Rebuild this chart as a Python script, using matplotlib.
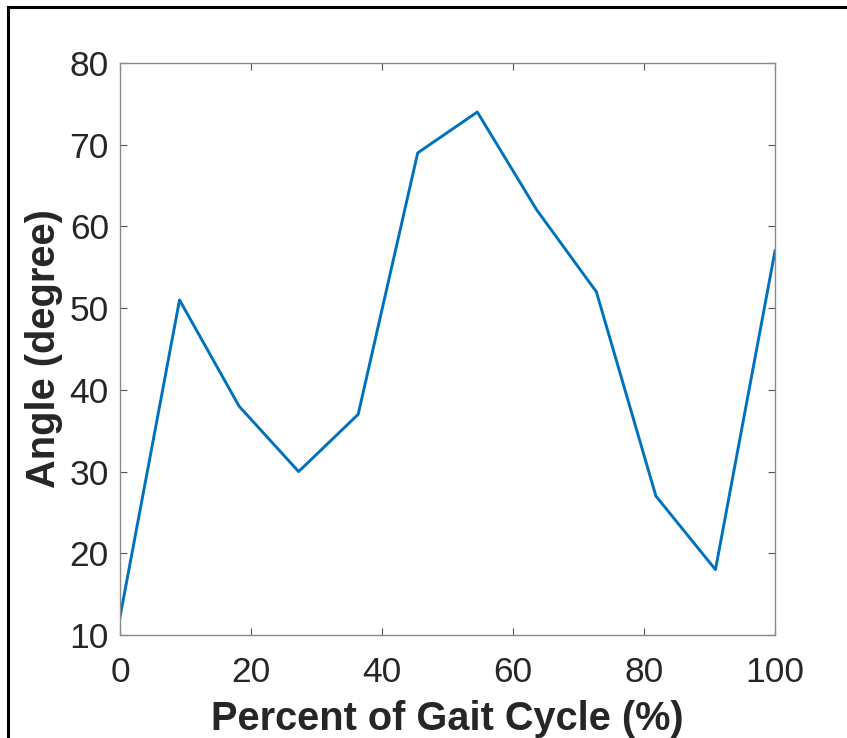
import matplotlib.pyplot as plt
from matplotlib.patches import Rectangle

plt.rcParams['font.family'] = ['Liberation Sans', 'DejaVu Sans']

# gait cycle samples (%), 12 points over 0..100
percent = [0, 9.09, 18.18, 27.27, 36.36, 45.45, 54.55, 63.64, 72.73, 81.82, 90.91, 100]
angle = [12.2, 51, 38, 30, 37, 69, 74, 62, 52, 27, 18, 57]
xticks = [0, 20, 40, 60, 80, 100]
yticks = [10, 20, 30, 40, 50, 60, 70, 80]

fig = plt.figure(figsize=(8.47, 7.38), dpi=100)
ax = fig.add_axes([120/847, 1 - 635/738, 655/847, 572/738])

ax.plot(percent, angle, color='#0072BD', lw=2.1)

ax.set_xlim(0, 100)
ax.set_ylim(10, 80)
ax.set_xticks(xticks)
ax.set_yticks(yticks)
for s in ax.spines.values():
    s.set_color('#8a8a8a')
    s.set_linewidth(1.0)
ax.tick_params(direction='in', length=5, width=0.8, color='#555555',
               labelsize=25.5, labelcolor='#262626', top=True, right=True)
ax.tick_params(axis='x', pad=15)
ax.tick_params(axis='y', pad=8)

ax.set_xlabel('Percent of Gait Cycle (%)', fontsize=28.6, fontweight='bold',
              color='#262626', labelpad=8)
ax.set_ylabel('Angle (degree)', fontsize=28.6, fontweight='bold',
              color='#262626', labelpad=5)

# black frame around the figure, cut off at right and bottom
fig.patches.append(Rectangle((8/847, -0.2), 1.2, 1 - 7/738 + 0.2,
                             transform=fig.transFigure, fill=False,
                             edgecolor='black', lw=2.2, clip_on=False))

fig.savefig('out.png', dpi=100)
